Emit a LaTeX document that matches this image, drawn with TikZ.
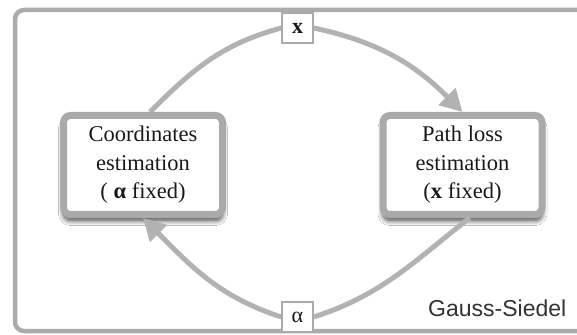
\documentclass[tikz,border=0pt]{standalone}
\usepackage{fontspec}
\setmainfont{Liberation Serif}
\newfontfamily\gsans{Liberation Sans}
\usetikzlibrary{arrows.meta,shadows.blur}
\definecolor{frameg}{HTML}{ABABAB}
\definecolor{boxg}{HTML}{AAAAAA}
\definecolor{lineg}{HTML}{B2B2B2}
\tikzset{
  estbox/.style={draw=boxg, line width=7pt, fill=white, rounded corners=7pt,
    minimum width=159pt, minimum height=99pt, inner sep=0pt, align=center,
    font=\fontsize{22.5}{28.5}\selectfont, text=black!90,
    blur shadow={shadow xshift=0pt, shadow yshift=-6pt, shadow blur radius=5pt, shadow blur steps=12, shadow opacity=75}},
  varbox/.style={draw=boxg, line width=1.5pt, fill=white, minimum width=31pt,
    minimum height=30pt, inner sep=0pt, font=\fontsize{22}{24}\selectfont, text=black!90},
  conn/.style={draw=lineg, line width=5pt},
  connarr/.style={conn, -{Triangle[length=22pt,width=23pt]}},
}
\begin{document}
\begin{tikzpicture}[x=1pt,y=1pt]
\useasboundingbox (0,0) rectangle (577,334);
\fill[white] (0,0) rectangle (577,334);
\draw[frameg, line width=4.5pt, rounded corners=9pt] (15,3) rectangle (600,324);
\node[estbox] (ce) at (143,169) {Coordinates\\estimation\\( \textbf{α} fixed)};
\node[estbox] (pl) at (462.5,169) {Path loss\\estimation\\(\textbf{x} fixed)};
\node[varbox] (xv) at (297.5,306) {\textbf{x}};
\node[varbox] (av) at (297.5,17) {α};
\draw[conn] ([xshift=7pt]ce.north) to[out=45, in=195] (xv.west);
\draw[connarr] (xv.east) to[out=-12, in=135] (pl.north);
\draw[conn] ([xshift=7pt]pl.south) to[out=218, in=18] (av.east);
\draw[connarr] (av.west) to[out=162, in=-45] (ce.south);
\node[font=\gsans\fontsize{23}{26}\selectfont, text=black!80, anchor=base west, inner sep=0pt] (gs) at (428,17) {Gauss-Siedel};
\end{tikzpicture}
\end{document}
